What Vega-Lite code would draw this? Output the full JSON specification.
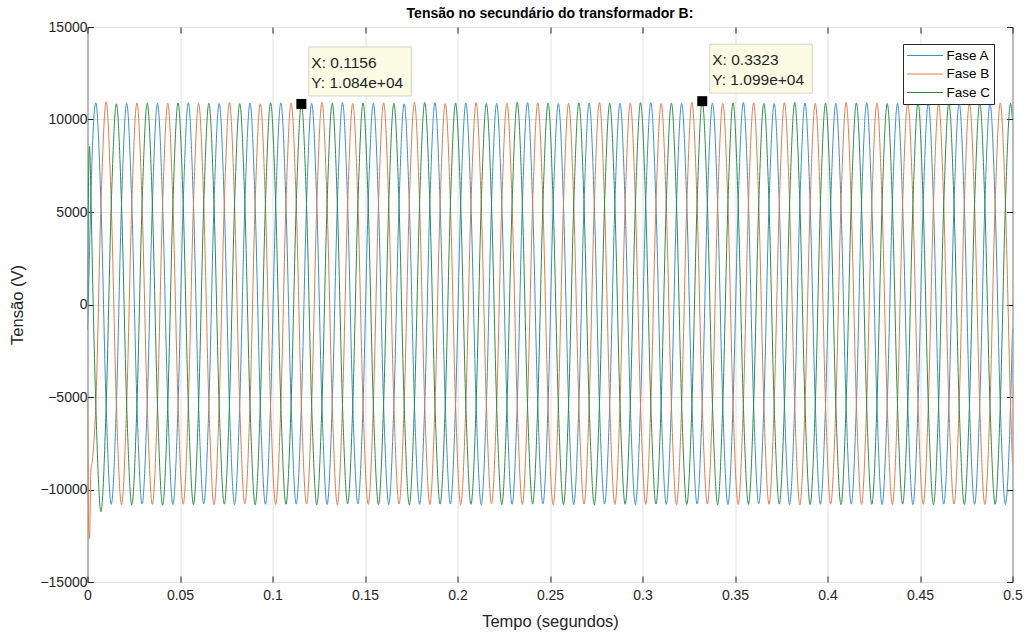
{
"$schema": "https://vega.github.io/schema/vega-lite/v6.json",
"width": 925, "height": 555,
"autosize": "none",
"padding": {"left": 87.5, "top": 27, "right": 16.5, "bottom": 50},
"background": "white",
"title": {"text": "Tensão no secundário do transformador B:", "fontSize": 14, "fontWeight": "bold", "font": "Liberation Sans", "color": "#000000", "offset": -1, "anchor": "middle"},
"config": {"font": "Liberation Sans", "view": {"stroke": "#262626", "strokeWidth": 1}},
"datasets": {
"w": [
{"t":0,"A":-1360,"B":-5100,"C":150},
{"t":0.0006,"A":780,"B":-11800,"C":6900},
{"t":0.0011,"A":2900,"B":-12650,"C":8550},
{"t":0.0018,"A":5600,"B":-9000,"C":6200},
{"t":0.0026,"A":8300,"B":-8450,"C":2200},
{"t":0.0045,"A":10900,"B":-5450,"C":-5450},
{"t":0.007278,"A":5430,"B":5400,"C":-11200},
{"t":0.010056,"A":-5420,"B":10960,"C":-5600},
{"t":0.012833,"A":-10800,"B":5440,"C":5380},
{"t":0.015611,"A":-5430,"B":-5420,"C":10850},
{"t":0.018389,"A":5450,"B":-10820,"C":5420},
{"t":0.021167,"A":10880,"B":-5430,"C":-5440},
{"t":0.023944,"A":5440,"B":5460,"C":-10830},
{"t":0.026722,"A":-5400,"B":10900,"C":-5420},
{"t":0.0295,"A":-10790,"B":5420,"C":5410},
{"t":0.032278,"A":-5420,"B":-5410,"C":10880},
{"t":0.035056,"A":5430,"B":-10800,"C":5440},
{"t":0.037833,"A":10870,"B":-5420,"C":-5450},
{"t":0.040611,"A":5420,"B":5440,"C":-10850},
{"t":0.043389,"A":-5410,"B":10880,"C":-5430},
{"t":0.046167,"A":-10810,"B":5430,"C":5420},
{"t":0.048944,"A":-5440,"B":-5400,"C":10900},
{"t":0.051722,"A":5420,"B":-10790,"C":5450},
{"t":0.0545,"A":10910,"B":-5440,"C":-5420},
{"t":0.057278,"A":5450,"B":5430,"C":-10810},
{"t":0.060056,"A":-5430,"B":10870,"C":-5440},
{"t":0.062833,"A":-10780,"B":5450,"C":5430},
{"t":0.065611,"A":-5420,"B":-5440,"C":10880},
{"t":0.068389,"A":5440,"B":-10820,"C":5420},
{"t":0.071167,"A":10860,"B":-5410,"C":-5440},
{"t":0.073944,"A":5430,"B":5420,"C":-10790},
{"t":0.076722,"A":-5440,"B":10920,"C":-5410},
{"t":0.0795,"A":-10820,"B":5410,"C":5440},
{"t":0.082278,"A":-5410,"B":-5450,"C":10860},
{"t":0.085056,"A":5420,"B":-10780,"C":5430},
{"t":0.087833,"A":10890,"B":-5430,"C":-5420},
{"t":0.090611,"A":5410,"B":5450,"C":-10830},
{"t":0.093389,"A":-5420,"B":10850,"C":-5450},
{"t":0.096167,"A":-10800,"B":5440,"C":5410},
{"t":0.098944,"A":-5450,"B":-5420,"C":10910},
{"t":0.101722,"A":5440,"B":-10810,"C":5440},
{"t":0.1045,"A":10900,"B":-5420,"C":-5430},
{"t":0.107278,"A":5430,"B":5430,"C":-10800},
{"t":0.110056,"A":-5410,"B":10890,"C":-5420},
{"t":0.112833,"A":-10790,"B":5420,"C":5420},
{"t":0.115611,"A":-5440,"B":-5440,"C":10840},
{"t":0.118389,"A":5420,"B":-10790,"C":5410},
{"t":0.121167,"A":10870,"B":-5440,"C":-5440},
{"t":0.123944,"A":5450,"B":5410,"C":-10820},
{"t":0.126722,"A":-5430,"B":10930,"C":-5430},
{"t":0.1295,"A":-10810,"B":5450,"C":5440},
{"t":0.132278,"A":-5420,"B":-5410,"C":10880},
{"t":0.135056,"A":5430,"B":-10830,"C":5420},
{"t":0.137833,"A":10920,"B":-5420,"C":-5410},
{"t":0.140611,"A":5420,"B":5440,"C":-10780},
{"t":0.143389,"A":-5440,"B":10870,"C":-5440},
{"t":0.146167,"A":-10780,"B":5430,"C":5430},
{"t":0.148944,"A":-5410,"B":-5430,"C":10900},
{"t":0.151722,"A":5440,"B":-10800,"C":5450},
{"t":0.1545,"A":10880,"B":-5450,"C":-5420},
{"t":0.157278,"A":5440,"B":5420,"C":-10810},
{"t":0.160056,"A":-5420,"B":10900,"C":-5410},
{"t":0.162833,"A":-10820,"B":5440,"C":5420},
{"t":0.165611,"A":-5430,"B":-5420,"C":10870},
{"t":0.168389,"A":5420,"B":-10790,"C":5430},
{"t":0.171167,"A":10850,"B":-5430,"C":-5440},
{"t":0.173944,"A":5430,"B":5450,"C":-10830},
{"t":0.176722,"A":-5410,"B":10940,"C":-5430},
{"t":0.1795,"A":-10800,"B":5420,"C":5440},
{"t":0.182278,"A":-5440,"B":-5440,"C":10920},
{"t":0.185056,"A":5450,"B":-10810,"C":5420},
{"t":0.187833,"A":10910,"B":-5420,"C":-5430},
{"t":0.190611,"A":5420,"B":5430,"C":-10790},
{"t":0.193389,"A":-5430,"B":10860,"C":-5420},
{"t":0.196167,"A":-10790,"B":5440,"C":5410},
{"t":0.198944,"A":-5420,"B":-5410,"C":10890},
{"t":0.201722,"A":5430,"B":-10820,"C":5440},
{"t":0.2045,"A":10890,"B":-5440,"C":-5410},
{"t":0.207278,"A":5440,"B":5420,"C":-10800},
{"t":0.210056,"A":-5440,"B":10910,"C":-5440},
{"t":0.212833,"A":-10830,"B":5430,"C":5430},
{"t":0.215611,"A":-5410,"B":-5450,"C":10860},
{"t":0.218389,"A":5420,"B":-10780,"C":5420},
{"t":0.221167,"A":10870,"B":-5420,"C":-5440},
{"t":0.223944,"A":5430,"B":5440,"C":-10820},
{"t":0.226722,"A":-5420,"B":10880,"C":-5430},
{"t":0.2295,"A":-10800,"B":5450,"C":5420},
{"t":0.232278,"A":-5430,"B":-5420,"C":10930},
{"t":0.235056,"A":5440,"B":-10800,"C":5450},
{"t":0.237833,"A":10920,"B":-5430,"C":-5420},
{"t":0.240611,"A":5420,"B":5410,"C":-10790},
{"t":0.243389,"A":-5410,"B":10900,"C":-5410},
{"t":0.246167,"A":-10780,"B":5420,"C":5440},
{"t":0.248944,"A":-5440,"B":-5440,"C":10880},
{"t":0.251722,"A":5430,"B":-10830,"C":5420},
{"t":0.2545,"A":10860,"B":-5450,"C":-5430},
{"t":0.257278,"A":5450,"B":5430,"C":-10810},
{"t":0.260056,"A":-5430,"B":10870,"C":-5440},
{"t":0.262833,"A":-10810,"B":5440,"C":5410},
{"t":0.265611,"A":-5420,"B":-5430,"C":10900},
{"t":0.268389,"A":5420,"B":-10790,"C":5430},
{"t":0.271167,"A":10900,"B":-5420,"C":-5440},
{"t":0.273944,"A":5430,"B":5450,"C":-10830},
{"t":0.276722,"A":-5440,"B":10920,"C":-5420},
{"t":0.2795,"A":-10790,"B":5420,"C":5430},
{"t":0.282278,"A":-5410,"B":-5410,"C":10870},
{"t":0.285056,"A":5440,"B":-10810,"C":5440},
{"t":0.287833,"A":10880,"B":-5440,"C":-5410},
{"t":0.290611,"A":5420,"B":5420,"C":-10800},
{"t":0.293389,"A":-5420,"B":10890,"C":-5430},
{"t":0.296167,"A":-10820,"B":5430,"C":5440},
{"t":0.298944,"A":-5430,"B":-5440,"C":10910},
{"t":0.301722,"A":5430,"B":-10800,"C":5420},
{"t":0.3045,"A":10910,"B":-5430,"C":-5430},
{"t":0.307278,"A":5440,"B":5440,"C":-10790},
{"t":0.310056,"A":-5410,"B":10860,"C":-5440},
{"t":0.312833,"A":-10800,"B":5450,"C":5420},
{"t":0.315611,"A":-5440,"B":-5420,"C":10890},
{"t":0.318389,"A":5420,"B":-10820,"C":5430},
{"t":0.321167,"A":10870,"B":-5420,"C":-5420},
{"t":0.323944,"A":5430,"B":5430,"C":-10810},
{"t":0.326722,"A":-5430,"B":10930,"C":-5410},
{"t":0.3295,"A":-10790,"B":5420,"C":5450},
{"t":0.332278,"A":-5420,"B":-5450,"C":10990},
{"t":0.335056,"A":5450,"B":-10790,"C":5470},
{"t":0.337833,"A":10890,"B":-5440,"C":-5430},
{"t":0.340611,"A":5420,"B":5420,"C":-10830},
{"t":0.343389,"A":-5440,"B":10880,"C":-5440},
{"t":0.346167,"A":-10810,"B":5440,"C":5420},
{"t":0.348944,"A":-5410,"B":-5430,"C":10900},
{"t":0.351722,"A":5430,"B":-10810,"C":5430},
{"t":0.3545,"A":10920,"B":-5430,"C":-5410},
{"t":0.357278,"A":5440,"B":5450,"C":-10800},
{"t":0.360056,"A":-5420,"B":10900,"C":-5430},
{"t":0.362833,"A":-10780,"B":5430,"C":5440},
{"t":0.365611,"A":-5430,"B":-5420,"C":10870},
{"t":0.368389,"A":5420,"B":-10800,"C":5420},
{"t":0.371167,"A":10860,"B":-5420,"C":-5440},
{"t":0.373944,"A":5430,"B":5430,"C":-10790},
{"t":0.376722,"A":-5430,"B":10910,"C":-5420},
{"t":0.3795,"A":-10820,"B":5420,"C":5430},
{"t":0.382278,"A":-5440,"B":-5440,"C":10920},
{"t":0.385056,"A":5440,"B":-10830,"C":5440},
{"t":0.387833,"A":10900,"B":-5450,"C":-5420},
{"t":0.390611,"A":5420,"B":5420,"C":-10810},
{"t":0.393389,"A":-5410,"B":10870,"C":-5440},
{"t":0.396167,"A":-10800,"B":5440,"C":5420},
{"t":0.398944,"A":-5420,"B":-5410,"C":10880},
{"t":0.401722,"A":5430,"B":-10790,"C":5430},
{"t":0.4045,"A":10880,"B":-5430,"C":-5430},
{"t":0.407278,"A":5450,"B":5440,"C":-10820},
{"t":0.410056,"A":-5440,"B":10920,"C":-5410},
{"t":0.412833,"A":-10790,"B":5430,"C":5440},
{"t":0.415611,"A":-5430,"B":-5430,"C":10900},
{"t":0.418389,"A":5420,"B":-10800,"C":5420},
{"t":0.421167,"A":10910,"B":-5420,"C":-5440},
{"t":0.423944,"A":5430,"B":5450,"C":-10800},
{"t":0.426722,"A":-5420,"B":10880,"C":-5430},
{"t":0.4295,"A":-10810,"B":5420,"C":5430},
{"t":0.432278,"A":-5440,"B":-5420,"C":10860},
{"t":0.435056,"A":5440,"B":-10820,"C":5440},
{"t":0.437833,"A":10870,"B":-5440,"C":-5420},
{"t":0.440611,"A":5420,"B":5430,"C":-10790},
{"t":0.443389,"A":-5430,"B":10900,"C":-5440},
{"t":0.446167,"A":-10820,"B":5450,"C":5420},
{"t":0.448944,"A":-5410,"B":-5440,"C":10910},
{"t":0.451722,"A":5430,"B":-10800,"C":5430},
{"t":0.4545,"A":10900,"B":-5430,"C":-5430},
{"t":0.457278,"A":5440,"B":5420,"C":-10830},
{"t":0.460056,"A":-5440,"B":10870,"C":-5410},
{"t":0.462833,"A":-10790,"B":5430,"C":5440},
{"t":0.465611,"A":-5420,"B":-5430,"C":10880},
{"t":0.468389,"A":5420,"B":-10790,"C":5420},
{"t":0.471167,"A":10890,"B":-5420,"C":-5440},
{"t":0.473944,"A":5430,"B":5440,"C":-10810},
{"t":0.476722,"A":-5420,"B":10910,"C":-5430},
{"t":0.4795,"A":-10800,"B":5420,"C":5430},
{"t":0.482278,"A":-5430,"B":-5420,"C":10900},
{"t":0.485056,"A":5440,"B":-10810,"C":5440},
{"t":0.487833,"A":10880,"B":-5440,"C":-5420},
{"t":0.490611,"A":5420,"B":5430,"C":-10800},
{"t":0.493389,"A":-5430,"B":10890,"C":-5440},
{"t":0.496167,"A":-10810,"B":5440,"C":5420},
{"t":0.498944,"A":-5420,"B":-5430,"C":10870},
{"t":0.5,"A":-1360,"B":-8660,"C":9990}
],
"tips": [
{"t":0.1156,"v":10840,"l1":"X: 0.1156","l2":"Y: 1.084e+04"},
{"t":0.3323,"v":10990,"l1":"X: 0.3323","l2":"Y: 1.099e+04"}
]
},
"layer": [
{"layer": [
 {"data": {"name": "w"},
  "transform": [{"fold": ["A", "B", "C"], "as": ["s", "v"]}],
  "mark": {"type": "line", "interpolate": "monotone", "strokeWidth": 1, "clip": true},
  "encoding": {
   "x": {"field": "t", "type": "quantitative", "scale": {"domain": [0, 0.5], "nice": false},
    "axis": {"values": [0,0.05,0.1,0.15,0.2,0.25,0.3,0.35,0.4,0.45,0.5], "format": "~g", "domain": false, "grid": true, "gridColor": "#e2e2e2", "tickSize": -6, "tickColor": "#262626", "labelFontSize": 14, "labelColor": "#262626", "labelPadding": 12, "labelFlush": false, "title": "Tempo (segundos)", "titleFontSize": 16.5, "titleFontWeight": "normal", "titleColor": "#262626", "titlePadding": 11}},
   "y": {"field": "v", "type": "quantitative", "scale": {"domain": [-15000, 15000], "nice": false},
    "axis": {"values": [-15000,-10000,-5000,0,5000,10000,15000], "format": "d", "domain": false, "grid": true, "gridColor": "#e2e2e2", "tickSize": -6, "tickColor": "#262626", "labelFontSize": 14, "labelColor": "#262626", "labelPadding": 6.5, "labelFlush": false, "title": "Tensão (V)", "titleFontSize": 16.5, "titleFontWeight": "normal", "titleColor": "#262626", "titlePadding": 14}},
   "color": {"field": "s", "type": "nominal", "scale": {"domain": ["A", "B", "C"], "range": ["#3a8fcc", "#de7c4a", "#2e8b4a"]},
    "legend": {"orient": "none", "legendX": 815.5, "legendY": 17, "title": null, "labelExpr": "'Fase ' + datum.label", "symbolType": "stroke", "symbolSize": 1296, "symbolStrokeWidth": 1, "clipHeight": 16, "labelFontSize": 13.5, "labelColor": "#000000", "fillColor": "white", "strokeColor": "#262626", "padding": 3.5, "rowPadding": 2.5, "labelOffset": 3}}
  }},
 {"data": {"name": "tips"},
  "mark": {"type": "rect", "xOffset": 7.5, "x2Offset": 110, "yOffset": -57, "y2Offset": -8, "fill": "#fcfce4", "stroke": "#d4d4c4", "strokeWidth": 1},
  "encoding": {"x": {"field": "t", "type": "quantitative"}, "x2": {"field": "t"}, "y": {"field": "v", "type": "quantitative"}, "y2": {"field": "v"}}},
 {"data": {"name": "tips"},
  "mark": {"type": "point", "shape": "square", "size": 100, "filled": true, "color": "#000000", "opacity": 1},
  "encoding": {"x": {"field": "t", "type": "quantitative"}, "y": {"field": "v", "type": "quantitative"}}},
 {"data": {"name": "tips"},
  "mark": {"type": "text", "align": "left", "baseline": "middle", "dx": 10, "dy": -41, "fontSize": 15.5, "color": "#262626"},
  "encoding": {"x": {"field": "t", "type": "quantitative"}, "y": {"field": "v", "type": "quantitative"}, "text": {"field": "l1"}}},
 {"data": {"name": "tips"},
  "mark": {"type": "text", "align": "left", "baseline": "middle", "dx": 10, "dy": -21, "fontSize": 15.5, "color": "#262626"},
  "encoding": {"x": {"field": "t", "type": "quantitative"}, "y": {"field": "v", "type": "quantitative"}, "text": {"field": "l2"}}}
]},
{"data": {"name": "tips"},
 "mark": {"type": "point", "opacity": 0},
 "encoding": {
  "x": {"field": "t", "type": "quantitative", "scale": {"domain": [0, 0.5], "nice": false},
   "axis": {"orient": "top", "values": [0,0.05,0.1,0.15,0.2,0.25,0.3,0.35,0.4,0.45,0.5], "labels": false, "domain": false, "grid": false, "tickSize": -6, "tickColor": "#262626", "title": null}},
  "y": {"field": "v", "type": "quantitative", "scale": {"domain": [-15000, 15000], "nice": false},
   "axis": {"orient": "right", "values": [-15000,-10000,-5000,0,5000,10000,15000], "labels": false, "domain": false, "grid": false, "tickSize": -6, "tickColor": "#262626", "title": null}}
 }}
],
"resolve": {"scale": {"x": "independent", "y": "independent"}}
}
